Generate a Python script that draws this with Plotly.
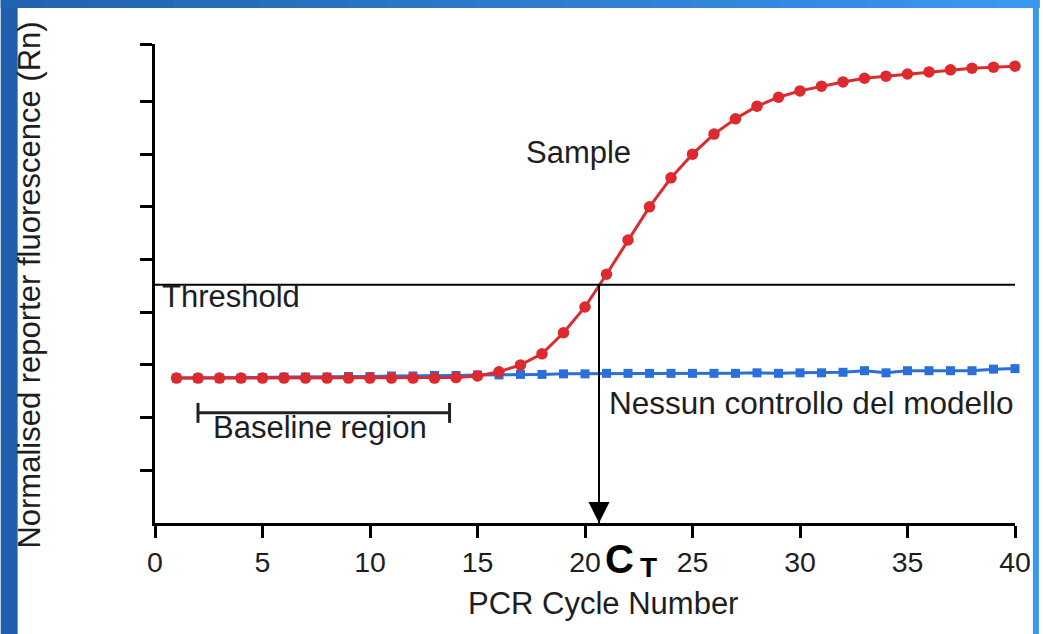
import plotly.graph_objects as go

# ---- data ----
cycles = [1, 2, 3, 4, 5, 6, 7, 8, 9, 10, 11, 12, 13, 14, 15, 16, 17, 18, 19, 20,
          21, 22, 23, 24, 25, 26, 27, 28, 29, 30, 31, 32, 33, 34, 35, 36, 37, 38, 39, 40]
sample_rn = [2.75, 2.75, 2.75, 2.75, 2.75, 2.75, 2.75, 2.75, 2.75, 2.75,
             2.75, 2.75, 2.75, 2.76, 2.79, 2.87, 3.00, 3.21, 3.61, 4.10,
             4.72, 5.37, 6.00, 6.55, 7.00, 7.38, 7.67, 7.91, 8.08, 8.20,
             8.29, 8.37, 8.44, 8.48, 8.52, 8.56, 8.60, 8.63, 8.65, 8.67]
ntc_rn = [2.75, 2.75, 2.75, 2.75, 2.76, 2.77, 2.77, 2.77, 2.78, 2.78,
          2.79, 2.79, 2.80, 2.80, 2.81, 2.81, 2.82, 2.82, 2.83, 2.83,
          2.84, 2.84, 2.84, 2.84, 2.84, 2.84, 2.84, 2.85, 2.84, 2.85,
          2.85, 2.86, 2.89, 2.85, 2.89, 2.89, 2.89, 2.89, 2.92, 2.93]
x_tickvals = [0, 5, 10, 15, 20, 25, 30, 35, 40]
y_tickvals = [1, 2, 3, 4, 5, 6, 7, 8, 9.09]
X_MAX = 40
Y_MAX = 9.09
THRESHOLD = 4.52
CT = 20.65
BASELINE_START = 2
BASELINE_END = 13.7
BASELINE_Y = 2.09

FONT = "Liberation Sans, Arial, sans-serif"
TXT = "#1e1e1e"
RED = "#dd2a2e"
BLUE = "#2b6fd8"

fig = go.Figure()
fig.add_trace(go.Scatter(
    x=cycles, y=ntc_rn, mode="lines+markers",
    line=dict(color=BLUE, width=3),
    marker=dict(symbol="square", size=9, color=BLUE),
    cliponaxis=False, hoverinfo="skip"))
fig.add_trace(go.Scatter(
    x=cycles, y=sample_rn, mode="lines+markers",
    line=dict(color=RED, width=3),
    marker=dict(symbol="circle", size=11.5, color=RED),
    cliponaxis=False, hoverinfo="skip"))
# Ct drop line with arrow head
fig.add_trace(go.Scatter(
    x=[CT, CT], y=[THRESHOLD, 0], mode="lines",
    line=dict(color="black", width=2), cliponaxis=False, hoverinfo="skip"))
fig.add_trace(go.Scatter(
    x=[CT], y=[0], mode="markers",
    marker=dict(symbol="arrow-down", size=21, color="black", line=dict(width=0)),
    cliponaxis=False, hoverinfo="skip"))

# frame: blue border
L, R, B, T = 155, 24, 111, 44
W, H = 1043, 634
pw, ph = W - L - R, H - T - B
def px_x(p):
    return (p - L) / pw
def px_y(p):
    return (H - B - p) / ph

shapes = []
shapes.append(dict(type="rect", xref="paper", yref="paper",
                   x0=px_x(0), x1=px_x(17), y0=px_y(H), y1=px_y(0),
                   fillcolor="#1f5fad", line=dict(width=0), layer="below"))
shapes.append(dict(type="rect", xref="paper", yref="paper",
                   x0=px_x(1037), x1=px_x(W), y0=px_y(H), y1=px_y(0),
                   fillcolor="#3a97ef", line=dict(width=0), layer="below"))
nseg = 24
c0 = (33, 99, 176)
c1 = (58, 151, 239)
for i in range(nseg):
    t = i / (nseg - 1)
    col = "rgb(%d,%d,%d)" % tuple(int(a + (b - a) * t) for a, b in zip(c0, c1))
    shapes.append(dict(type="rect", xref="paper", yref="paper",
                       x0=px_x(W * i / nseg), x1=px_x(W * (i + 1) / nseg + 1),
                       y0=px_y(8), y1=px_y(0),
                       fillcolor=col, line=dict(width=0), layer="below"))

# threshold line
shapes.append(dict(type="line", xref="x", yref="y", x0=0, x1=X_MAX,
                   y0=THRESHOLD, y1=THRESHOLD, line=dict(color="black", width=2)))
# baseline bracket
shapes.append(dict(type="line", xref="x", yref="y", x0=BASELINE_START, x1=BASELINE_END,
                   y0=BASELINE_Y, y1=BASELINE_Y, line=dict(color="#222", width=3)))
for xb in (BASELINE_START, BASELINE_END):
    shapes.append(dict(type="line", xref="x", yref="y", ysizemode="pixel", yanchor=BASELINE_Y,
                       x0=xb, x1=xb, y0=-10, y1=10, line=dict(color="#222", width=3)))

ann = []
def txt(text, px, py, size=31, xanchor="center", yanchor="middle", bold=False, angle=0):
    ann.append(dict(text=text, x=px_x(px), y=px_y(py), xref="paper", yref="paper", showarrow=False,
                    xanchor=xanchor, yanchor=yanchor, textangle=angle, borderpad=0,
                    font=dict(family=FONT, size=size, color="black" if bold else TXT)))

txt("Sample", 580, 152)
txt("Threshold", 161, 296, xanchor="left")
txt("Baseline region", 321, 427)
txt("Nessun controllo del modello", 1018, 403, size=31.5, xanchor="right")
txt("PCR Cycle Number", 605, 603, size=31)
txt("<b>C</b>", 622, 559, size=40, bold=True)
txt("<b>T</b>", 651, 567, size=28, bold=True)
txt("Normalised reporter fluorescence (Rn)", 28, 285, angle=-90)

fig.update_layout(
    width=W, height=H,
    margin=dict(l=L, r=R, t=T, b=B, pad=0),
    paper_bgcolor="white", plot_bgcolor="white",
    showlegend=False,
    shapes=shapes, annotations=ann,
    font=dict(family=FONT, color=TXT),
    xaxis=dict(range=[0, X_MAX], tickvals=x_tickvals, ticks="outside", ticklen=12, tickwidth=3,
               tickcolor="black", showline=True, linecolor="black", linewidth=3,
               showgrid=False, zeroline=False, tickfont=dict(family=FONT, size=28.5, color=TXT)),
    yaxis=dict(range=[0, Y_MAX], tickvals=y_tickvals, ticks="outside", ticklen=12, tickwidth=3,
               tickcolor="black", showline=True, linecolor="black", linewidth=3,
               showgrid=False, zeroline=False, showticklabels=False),
)
fig.write_html("out.html", config={"displayModeBar": False},
               post_script="document.body.style.margin='0';document.body.style.overflow='hidden';")
